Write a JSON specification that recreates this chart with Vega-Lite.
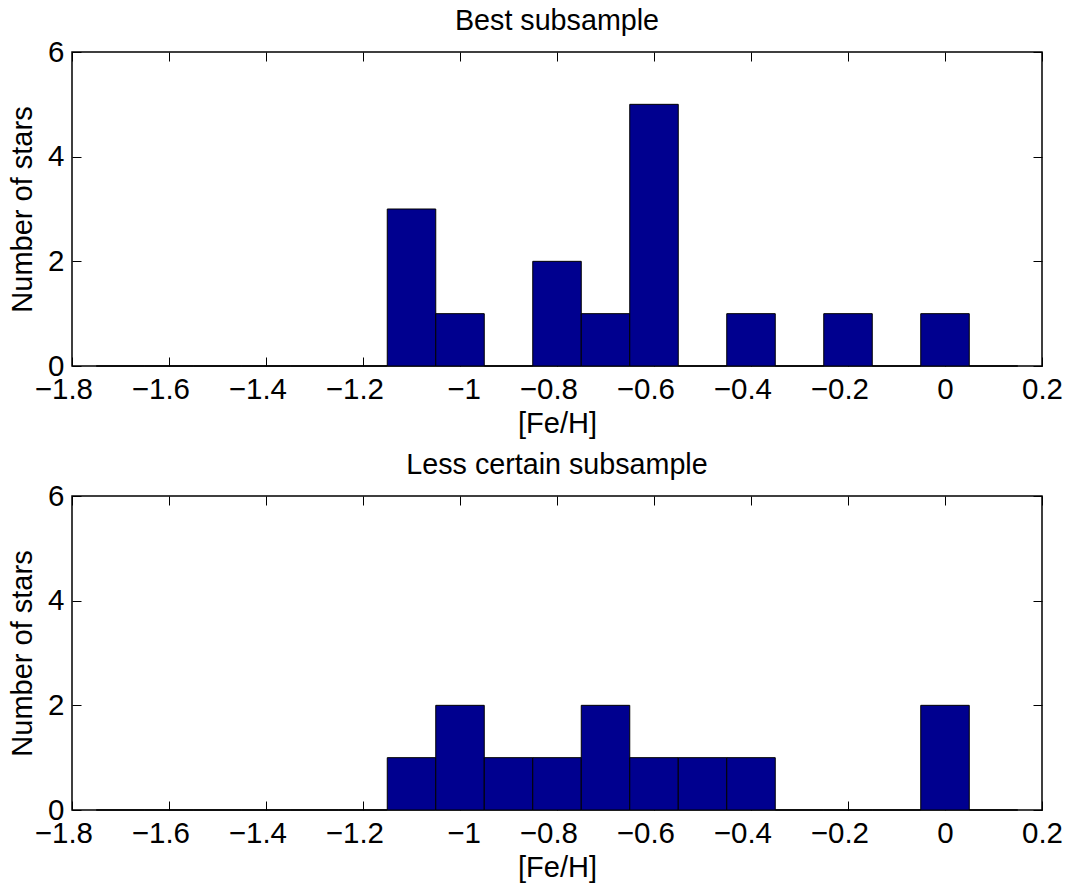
{
  "$schema": "https://vega.github.io/schema/vega-lite/v6.json",
  "background": "white",
  "padding": {"left": 7, "top": 6, "right": 5, "bottom": 5},
  "spacing": 10,
  "config": {
    "font": "Liberation Sans",
    "view": {"stroke": "black", "strokeWidth": 1.5},
    "axis": {
      "grid": false,
      "domain": false,
      "ticks": true,
      "tickColor": "black",
      "tickWidth": 1,
      "tickSize": -9,
      "labelFont": "Liberation Sans",
      "labelFontSize": 29.5,
      "labelColor": "black",
      "labelFlush": false,
      "labelOverlap": false,
      "titleFont": "Liberation Sans",
      "titleFontSize": 29,
      "titleFontWeight": "normal",
      "titleColor": "black",
      "format": "~g"
    },
    "title": {"font": "Liberation Sans", "fontSize": 28.7, "fontWeight": "normal", "color": "black", "anchor": "middle"}
  },
  "datasets": {
    "best": [
      {"lo": -1.75, "hi": -1.65, "count": 0},
      {"lo": -1.65, "hi": -1.55, "count": 0},
      {"lo": -1.55, "hi": -1.45, "count": 0},
      {"lo": -1.45, "hi": -1.35, "count": 0},
      {"lo": -1.35, "hi": -1.25, "count": 0},
      {"lo": -1.25, "hi": -1.15, "count": 0},
      {"lo": -1.15, "hi": -1.05, "count": 3},
      {"lo": -1.05, "hi": -0.95, "count": 1},
      {"lo": -0.95, "hi": -0.85, "count": 0},
      {"lo": -0.85, "hi": -0.75, "count": 2},
      {"lo": -0.75, "hi": -0.65, "count": 1},
      {"lo": -0.65, "hi": -0.55, "count": 5},
      {"lo": -0.55, "hi": -0.45, "count": 0},
      {"lo": -0.45, "hi": -0.35, "count": 1},
      {"lo": -0.35, "hi": -0.25, "count": 0},
      {"lo": -0.25, "hi": -0.15, "count": 1},
      {"lo": -0.15, "hi": -0.05, "count": 0},
      {"lo": -0.05, "hi": 0.05, "count": 1},
      {"lo": 0.05, "hi": 0.15, "count": 0}
    ],
    "less": [
      {"lo": -1.75, "hi": -1.65, "count": 0},
      {"lo": -1.65, "hi": -1.55, "count": 0},
      {"lo": -1.55, "hi": -1.45, "count": 0},
      {"lo": -1.45, "hi": -1.35, "count": 0},
      {"lo": -1.35, "hi": -1.25, "count": 0},
      {"lo": -1.25, "hi": -1.15, "count": 0},
      {"lo": -1.15, "hi": -1.05, "count": 1},
      {"lo": -1.05, "hi": -0.95, "count": 2},
      {"lo": -0.95, "hi": -0.85, "count": 1},
      {"lo": -0.85, "hi": -0.75, "count": 1},
      {"lo": -0.75, "hi": -0.65, "count": 2},
      {"lo": -0.65, "hi": -0.55, "count": 1},
      {"lo": -0.55, "hi": -0.45, "count": 1},
      {"lo": -0.45, "hi": -0.35, "count": 1},
      {"lo": -0.35, "hi": -0.25, "count": 0},
      {"lo": -0.25, "hi": -0.15, "count": 0},
      {"lo": -0.15, "hi": -0.05, "count": 0},
      {"lo": -0.05, "hi": 0.05, "count": 2},
      {"lo": 0.05, "hi": 0.15, "count": 0}
    ]
  },
  "vconcat": [
    {
      "width": 970,
      "height": 314,
      "title": {"text": "Best subsample", "baseline": "alphabetic", "offset": -22},
      "data": {"name": "best"},
      "layer": [
        {
          "mark": {"type": "bar", "fill": "#00008F", "stroke": "black", "strokeWidth": 1},
          "encoding": {
            "x": {"field": "lo", "type": "quantitative", "scale": {"domain": [-1.8, 0.2], "nice": false, "zero": false},
                  "axis": {"orient": "bottom", "values": [-1.8, -1.6, -1.4, -1.2, -1, -0.8, -0.6, -0.4, -0.2, 0, 0.2], "title": "[Fe/H]", "labelPadding": 18, "titlePadding": 6,
                           "labelAlign": {"condition": {"test": "datum.value < 0", "value": "right"}, "value": "center"},
                           "labelOffset": {"condition": {"test": "datum.value < 0", "value": 20.5}, "value": 0}}},
            "x2": {"field": "hi"},
            "y": {"field": "count", "type": "quantitative", "scale": {"domain": [0, 6], "nice": false},
                  "axis": {"orient": "left", "values": [0, 2, 4, 6], "title": "Number of stars", "labelPadding": 17, "titlePadding": 10}},
            "y2": {"datum": 0}
          }
        },
        {
          "mark": {"type": "bar", "opacity": 0},
          "encoding": {
            "x": {"field": "lo", "type": "quantitative", "scale": {"domain": [-1.8, 0.2], "nice": false, "zero": false},
                  "axis": {"orient": "top", "values": [-1.8, -1.6, -1.4, -1.2, -1, -0.8, -0.6, -0.4, -0.2, 0, 0.2], "labels": false, "title": null}},
            "x2": {"field": "hi"},
            "y": {"field": "count", "type": "quantitative", "scale": {"domain": [0, 6], "nice": false},
                  "axis": {"orient": "right", "values": [0, 2, 4, 6], "labels": false, "title": null}},
            "y2": {"datum": 0}
          }
        }
      ],
      "resolve": {"axis": {"x": "independent", "y": "independent"}}
    },
    {
      "width": 970,
      "height": 314,
      "title": {"text": "Less certain subsample", "baseline": "alphabetic", "offset": -22},
      "data": {"name": "less"},
      "layer": [
        {
          "mark": {"type": "bar", "fill": "#00008F", "stroke": "black", "strokeWidth": 1},
          "encoding": {
            "x": {"field": "lo", "type": "quantitative", "scale": {"domain": [-1.8, 0.2], "nice": false, "zero": false},
                  "axis": {"orient": "bottom", "values": [-1.8, -1.6, -1.4, -1.2, -1, -0.8, -0.6, -0.4, -0.2, 0, 0.2], "title": "[Fe/H]", "labelPadding": 18, "titlePadding": 6,
                           "labelAlign": {"condition": {"test": "datum.value < 0", "value": "right"}, "value": "center"},
                           "labelOffset": {"condition": {"test": "datum.value < 0", "value": 20.5}, "value": 0}}},
            "x2": {"field": "hi"},
            "y": {"field": "count", "type": "quantitative", "scale": {"domain": [0, 6], "nice": false},
                  "axis": {"orient": "left", "values": [0, 2, 4, 6], "title": "Number of stars", "labelPadding": 17, "titlePadding": 10}},
            "y2": {"datum": 0}
          }
        },
        {
          "mark": {"type": "bar", "opacity": 0},
          "encoding": {
            "x": {"field": "lo", "type": "quantitative", "scale": {"domain": [-1.8, 0.2], "nice": false, "zero": false},
                  "axis": {"orient": "top", "values": [-1.8, -1.6, -1.4, -1.2, -1, -0.8, -0.6, -0.4, -0.2, 0, 0.2], "labels": false, "title": null}},
            "x2": {"field": "hi"},
            "y": {"field": "count", "type": "quantitative", "scale": {"domain": [0, 6], "nice": false},
                  "axis": {"orient": "right", "values": [0, 2, 4, 6], "labels": false, "title": null}},
            "y2": {"datum": 0}
          }
        }
      ],
      "resolve": {"axis": {"x": "independent", "y": "independent"}}
    }
  ]
}
